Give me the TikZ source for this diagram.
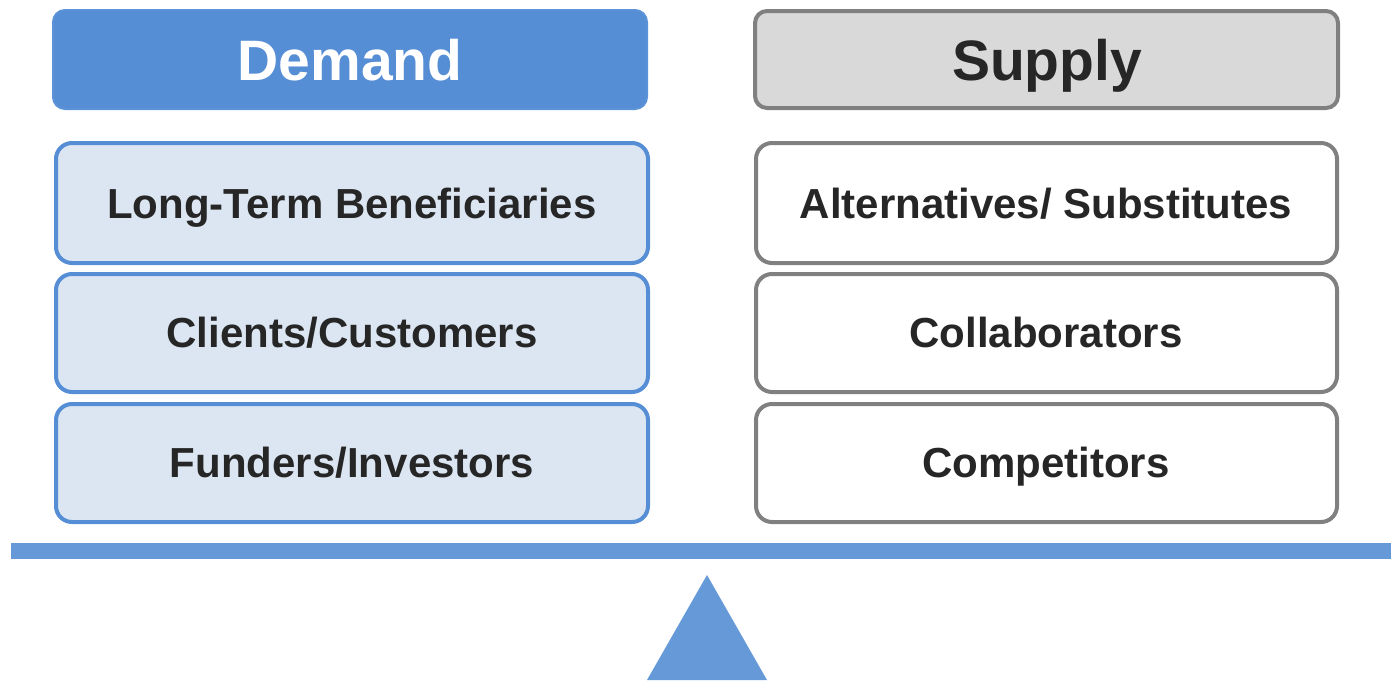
\documentclass[tikz,border=0pt]{standalone}
\usepackage{fontspec}
\setmainfont{Liberation Sans}
\definecolor{dmblue}{HTML}{558ED5}
\definecolor{dmborder}{HTML}{5B92D8}
\definecolor{dmlight}{HTML}{DCE6F2}
\definecolor{spgray}{HTML}{D9D9D9}
\definecolor{spborder}{HTML}{808080}
\definecolor{barblue}{HTML}{6699D8}
\definecolor{txt}{HTML}{262626}
\begin{document}
\begin{tikzpicture}[x=1pt,y=-1pt,
  hdr/.style={rounded corners=12pt, line width=2pt},
  item/.style={rounded corners=16pt, line width=4pt},
  lbl/.style={font=\fontsize{42}{48}\selectfont\bfseries, text=txt, anchor=base, inner sep=0pt},
  hlbl/.style={font=\fontsize{57}{64}\selectfont\bfseries, anchor=base, inner sep=0pt}]
\useasboundingbox (0,0) rectangle (1391,680);
% headers
\draw[hdr, fill=dmblue, draw=dmborder] (53,10) rectangle (647,109);
\node[hlbl, text=white] (demand) at (350,80) {Demand};
\draw[hdr, line width=4pt, fill=spgray, draw=spborder] (755,11) rectangle (1338,108);
\node[hlbl, text=txt] (supply) at (1047,80) {Supply};
% demand items
\draw[item, fill=dmlight, draw=dmblue] (56,143) rectangle (648,263);
\node[lbl] (d1) at (352,218) {Long-Term Beneficiaries};
\draw[item, fill=dmlight, draw=dmblue] (56,274) rectangle (648,392);
\node[lbl] (d2) at (352,347) {Clients/Customers};
\draw[item, fill=dmlight, draw=dmblue] (56,404) rectangle (648,522);
\node[lbl] (d3) at (352,477) {Funders/Investors};
% supply items
\draw[item, fill=white, draw=spborder] (756,143) rectangle (1337,263);
\node[lbl] (s1) at (1046,218) {Alternatives/ Substitutes};
\draw[item, fill=white, draw=spborder] (756,274) rectangle (1337,392);
\node[lbl] (s2) at (1046,347) {Collaborators};
\draw[item, fill=white, draw=spborder] (756,404) rectangle (1337,522);
\node[lbl] (s3) at (1046,477) {Competitors};
% balance bar and fulcrum
\fill[barblue] (11,543) rectangle (1391,559);
\fill[barblue] (707,575) -- (767,680) -- (647,680) -- cycle;
\end{tikzpicture}
\end{document}
